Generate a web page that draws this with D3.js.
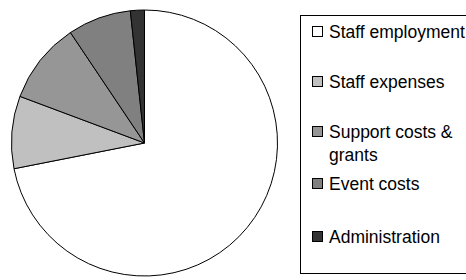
<!DOCTYPE html>
<html>

<head>
    <meta charset="UTF-8">
    <title>Expenditure pie</title>
    <script src="https://d3js.org/d3.v7.min.js"></script>
    <style>
        body { margin: 0; background: #fff; }
        text { font-family: "Liberation Sans", Arial, sans-serif; }
    </style>
</head>

<body>
    <div class="canvas"></div>

    <script>
        const width = 466;
        const height = 280;

        // data (share of total, %)
        const categories = ["Staff employment", "Staff expenses", "Support costs & grants", "Event costs", "Administration"];
        const values = [71.9, 8.8, 9.9, 7.7, 1.7];
        const legendLines = [["Staff employment"], ["Staff expenses"], ["Support costs &", "grants"], ["Event costs"], ["Administration"]];
        const colors = ["#ffffff", "#c0c0c0", "#969696", "#808080", "#333333"];

        const svg = d3.select(".canvas")
            .append("svg")
            .attr("width", width)
            .attr("height", height);

        // pie
        const radius = 133;
        const pieG = svg.append("g")
            .attr("transform", `translate(144.5, 143)`);

        const pie = d3.pie().sort(null).value((d) => d)(values);
        const arc = d3.arc().innerRadius(0).outerRadius(radius);
        const color = d3.scaleOrdinal().domain(categories).range(colors);

        pieG.selectAll("path")
            .data(pie)
            .enter()
            .append("path")
            .attr("d", arc)
            .attr("fill", (d, i) => color(categories[i]))
            .attr("stroke", "#000")
            .attr("stroke-width", 1)
            .attr("stroke-linejoin", "round");

        // legend
        svg.append("rect")
            .attr("x", 300.5)
            .attr("y", 15.5)
            .attr("width", 180)
            .attr("height", 258)
            .attr("fill", "none")
            .attr("stroke", "#000");

        const baselines = [38, 88, 138, 190, 243];
        const legend = svg.selectAll(".item")
            .data(categories)
            .enter()
            .append("g")
            .attr("class", "item")
            .attr("transform", (d, i) => `translate(0, ${baselines[i]})`);

        legend.append("rect")
            .attr("x", 312.5)
            .attr("y", -11.5)
            .attr("width", 10)
            .attr("height", 10)
            .attr("fill", (d) => color(d))
            .attr("stroke", "#000");

        legend.append("text")
            .attr("x", 329)
            .attr("y", 0)
            .attr("font-size", "17.5px")
            .attr("fill", "#000")
            .selectAll("tspan")
            .data((d, i) => legendLines[i])
            .enter()
            .append("tspan")
            .attr("x", 329)
            .attr("dy", (d, j) => j === 0 ? 0 : 23)
            .text((d) => d);
    </script>
</body>

</html>
